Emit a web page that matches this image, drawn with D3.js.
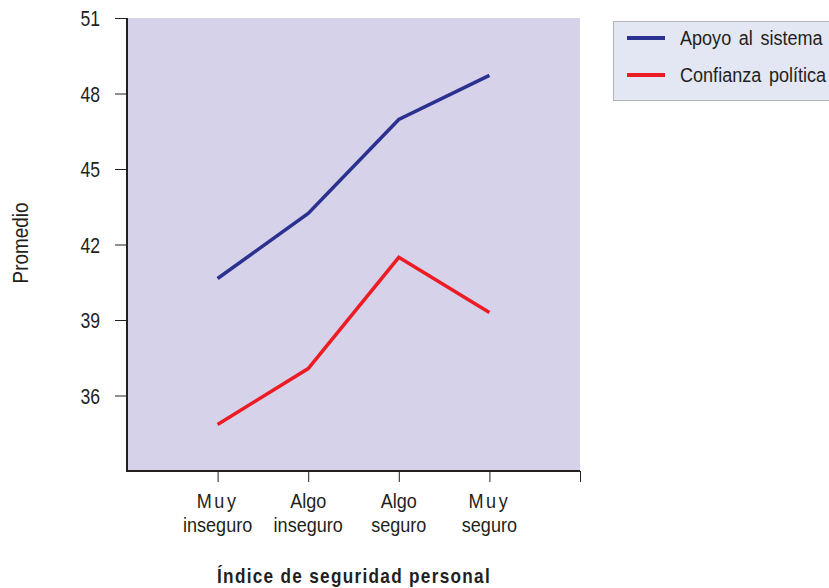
<!DOCTYPE html>
<html>
<head>
<meta charset="utf-8">
<script src="https://cdn.jsdelivr.net/npm/d3@7"></script>
<style>
  body { margin: 0; background: #fff; }
  text { font-family: "Liberation Sans", Arial, sans-serif; fill: #231f20; }
</style>
</head>
<body>
<script>
// data
let categories = [["Muy", "inseguro"], ["Algo", "inseguro"], ["Algo", "seguro"], ["Muy", "seguro"]];
let apoyo = [40.65, 43.23, 46.97, 48.72];
let confianza = [34.85, 37.07, 41.49, 39.3];
let yTicks = [36, 39, 42, 45, 48, 51];
let seriesNames = ["Apoyo al sistema", "Confianza política"];
let colors = ["#2b3190", "#ed1c24"];

let svg = d3.select("body").append("svg")
    .attr("width", 829)
    .attr("height", 588);

let plotL = 127, plotR = 580, plotT = 18, plotB = 471;

let x = d3.scaleLinear().domain([0, 5]).range([plotL, plotR]);
let y = d3.scaleLinear().domain([33, 51]).range([plotB, plotT]);

// condensed text helper (original uses a narrow font)
function label(px, py, str, size, anchor, sx, rot) {
    let g = svg.append("g")
        .attr("transform", "translate(" + px + "," + py + ")" + (rot ? " rotate(" + rot + ")" : ""));
    return g.append("text")
        .attr("transform", "scale(" + sx + ",1)")
        .attr("text-anchor", anchor || "start")
        .attr("font-size", size)
        .text(str);
}

// plot background
svg.append("rect")
    .attr("x", plotL).attr("y", plotT)
    .attr("width", plotR - plotL).attr("height", plotB - plotT)
    .attr("fill", "#d6d2e9");

// y axis
let yAxis = svg.append("g")
    .attr("transform", "translate(" + plotL + ",0)")
    .call(d3.axisLeft(y).tickValues(yTicks).tickSize(12).tickFormat(""));
yAxis.select(".domain").remove();
yAxis.selectAll(".tick line").attr("stroke", "#231f20");
yTicks.forEach(t => {
    label(100, y(t) + 8, t, 22, "end", 0.8);
});
svg.append("line")
    .attr("x1", plotL).attr("x2", plotL)
    .attr("y1", plotT).attr("y2", plotB + 1)
    .attr("stroke", "#231f20").attr("stroke-width", 2);

// x axis
let xAxis = svg.append("g")
    .attr("transform", "translate(0," + plotB + ")")
    .call(d3.axisBottom(x).tickValues([1, 2, 3, 4, 5]).tickSize(11).tickFormat(""));
xAxis.select(".domain").remove();
xAxis.selectAll(".tick line").attr("stroke", "#231f20");
svg.append("line")
    .attr("x1", plotL - 1).attr("x2", plotR)
    .attr("y1", plotB).attr("y2", plotB)
    .attr("stroke", "#231f20").attr("stroke-width", 2);

categories.forEach((c, i) => {
    let t1 = label(x(i + 1), 508, c[0], 21, "middle", 0.86);
    if (c[0] == "Muy") t1.attr("letter-spacing", "3px");
    label(x(i + 1), 532, c[1], 21, "middle", 0.86);
});

// axis titles
label(354, 583, "Índice de seguridad personal", 20, "middle", 0.86)
    .attr("font-weight", "bold")
    .attr("letter-spacing", "1.5px");

label(28, 243, "Promedio", 22, "middle", 0.86, -90);

// lines
let line = d3.line()
    .x((d, i) => x(i + 1))
    .y(d => y(d));

[apoyo, confianza].forEach((s, k) => {
    svg.append("path")
        .datum(s)
        .attr("d", line)
        .attr("fill", "none")
        .attr("stroke", colors[k])
        .attr("stroke-width", 3.5);
});

// legend
svg.append("rect")
    .attr("x", 613.5).attr("y", 21.5)
    .attr("width", 230).attr("height", 79)
    .attr("fill", "#e3e6f3")
    .attr("stroke", "#b5b5b5");
seriesNames.forEach((n, k) => {
    let ly = 38 + k * 37;
    svg.append("line")
        .attr("x1", 627).attr("x2", 665)
        .attr("y1", ly).attr("y2", ly)
        .attr("stroke", colors[k]).attr("stroke-width", 4);
    label(680, ly + 7, n, 21, "start", 0.86).attr("word-spacing", "3px");
});
</script>
</body>
</html>
